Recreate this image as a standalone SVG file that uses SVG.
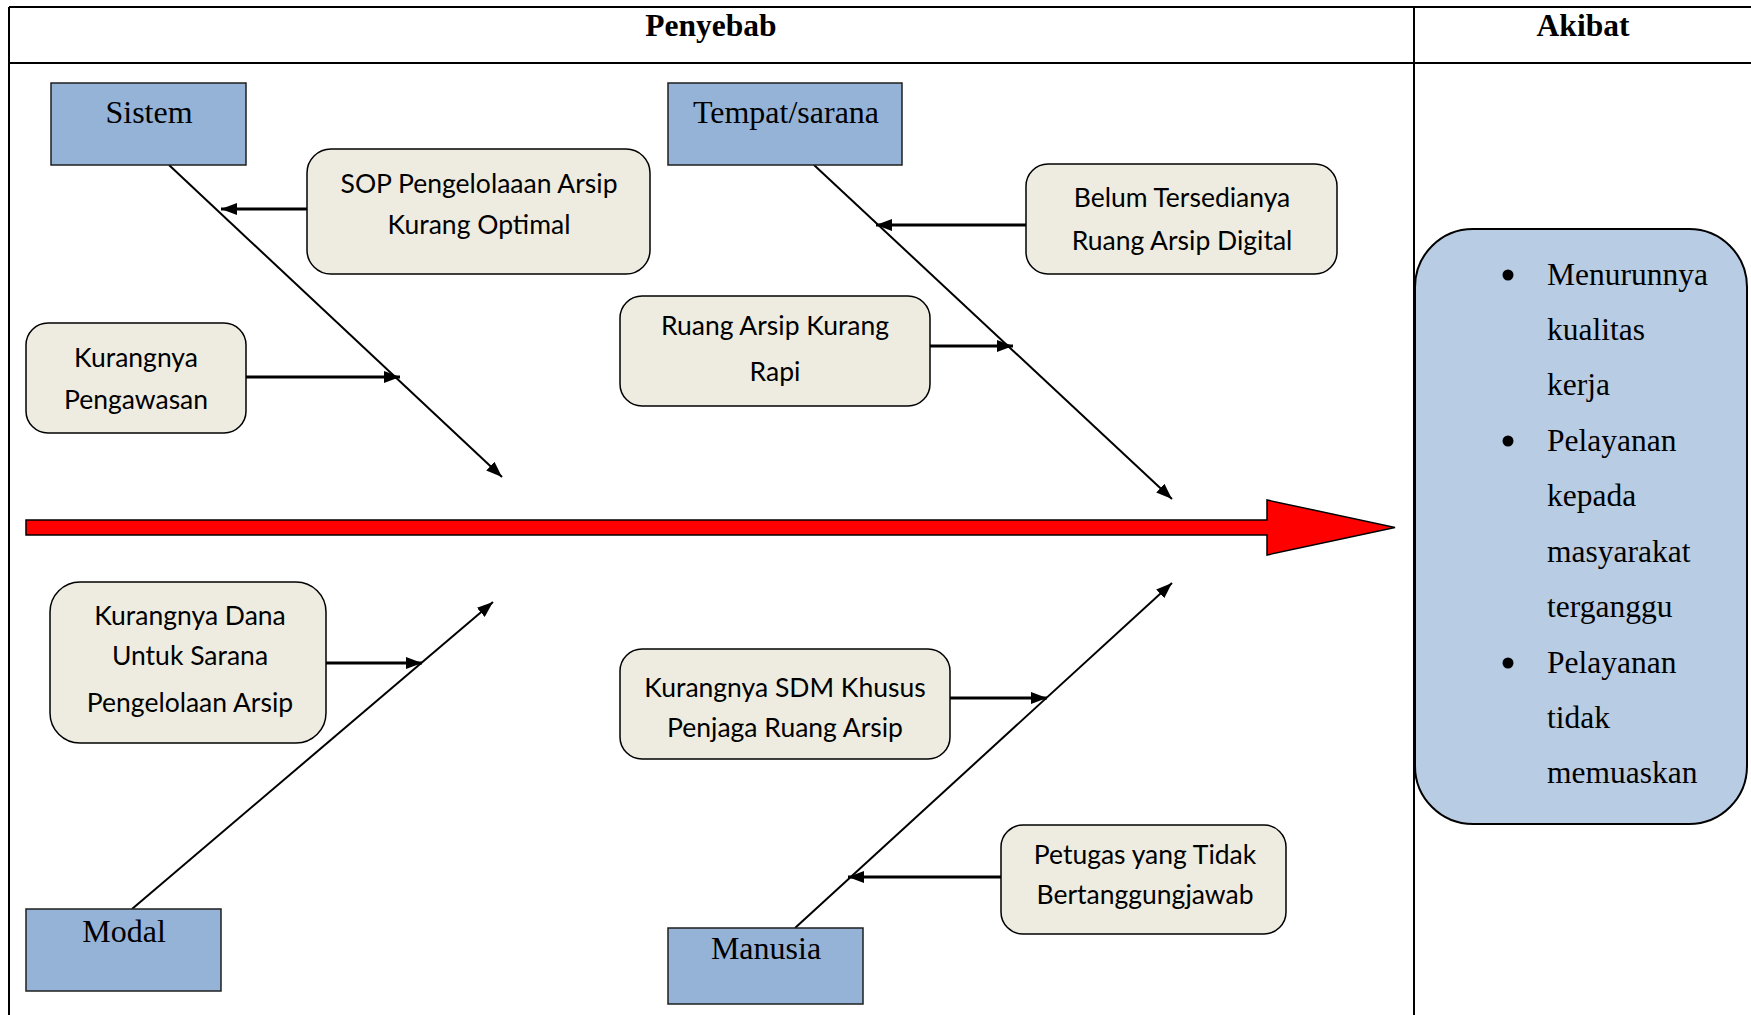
<svg xmlns="http://www.w3.org/2000/svg" width="1751" height="1015" viewBox="0 0 1751 1015">
<defs>
<style>
.tbl{stroke:#000;stroke-width:2;fill:none}
.hdr{font-family:"Liberation Serif",serif;font-weight:bold;font-size:31.5px;text-anchor:middle;fill:#000}
.cat rect{fill:#95B3D7;stroke:#1f1f1f;stroke-width:1.5}
.cat text{font-family:"Liberation Serif",serif;font-size:32px;text-anchor:middle;fill:#000}
.cause rect{fill:#EEECE1;stroke:#000;stroke-width:1.5}
.cause text{font-family:Lato,"Liberation Sans",sans-serif;font-size:26.5px;text-anchor:middle;fill:#000}
.spine{stroke:#000;stroke-width:2;fill:none;marker-end:url(#ah)}
.branch{stroke:#000;stroke-width:3;fill:none;marker-end:url(#ah)}
.eff text{font-family:"Liberation Serif",serif;font-size:31.5px;fill:#000}
</style>
<marker id="ah" viewBox="0 0 16 12" refX="16" refY="6" markerWidth="16" markerHeight="12" markerUnits="userSpaceOnUse" orient="auto">
<path d="M0,0 L16,6 L0,12 Z" fill="#000"/>
</marker>
</defs>

<g id="table">
<line class="tbl" x1="9" y1="7" x2="1751" y2="7"/>
<line class="tbl" x1="9" y1="63" x2="1751" y2="63"/>
<line class="tbl" x1="9" y1="7" x2="9" y2="1015"/>
<line class="tbl" x1="1414" y1="7" x2="1414" y2="1015"/>
<text class="hdr" x="711" y="36">Penyebab</text>
<text class="hdr" x="1583" y="36">Akibat</text>
</g>

<g id="connectors">
<polygon points="26,520 1267,520 1267,500 1395,527.5 1267,555 1267,535 26,535" fill="#FF0000" stroke="#000" stroke-width="1.5"/>
<line class="spine" x1="169" y1="165" x2="502" y2="477"/>
<line class="spine" x1="814" y1="165" x2="1172" y2="499"/>
<line class="spine" x1="132" y1="909" x2="493" y2="602"/>
<line class="spine" x1="795" y1="928" x2="1172" y2="583"/>
<line class="branch" x1="307" y1="209" x2="221" y2="209"/>
<line class="branch" x1="245" y1="377" x2="400" y2="377"/>
<line class="branch" x1="1026" y1="225" x2="876" y2="225"/>
<line class="branch" x1="930" y1="346" x2="1013" y2="346"/>
<line class="branch" x1="326" y1="663" x2="422" y2="663"/>
<line class="branch" x1="950" y1="698" x2="1047" y2="698"/>
<line class="branch" x1="1001" y1="877" x2="848" y2="877"/>
</g>

<g id="sistem" class="cat">
<rect x="51" y="83" width="195" height="82"/>
<text x="149" y="123">Sistem</text>
</g>
<g id="tempat" class="cat">
<rect x="668" y="83" width="234" height="82"/>
<text x="786" y="123">Tempat/sarana</text>
</g>
<g id="modal" class="cat">
<rect x="26" y="909" width="195" height="82"/>
<text x="124" y="942">Modal</text>
</g>
<g id="manusia" class="cat">
<rect x="668" y="928" width="195" height="76"/>
<text x="766" y="959">Manusia</text>
</g>

<g id="sop" class="cause">
<rect x="307" y="149" width="343" height="125" rx="24"/>
<text x="479" y="193">SOP Pengelolaaan Arsip</text>
<text x="479" y="234">Kurang Optimal</text>
</g>
<g id="pengawasan" class="cause">
<rect x="26" y="323" width="220" height="110" rx="22"/>
<text x="136" y="367">Kurangnya</text>
<text x="136" y="409">Pengawasan</text>
</g>
<g id="belum" class="cause">
<rect x="1026" y="164" width="311" height="110" rx="22"/>
<text x="1182" y="207">Belum Tersedianya</text>
<text x="1182" y="250">Ruang Arsip Digital</text>
</g>
<g id="rapi" class="cause">
<rect x="620" y="296" width="310" height="110" rx="22"/>
<text x="775" y="335">Ruang Arsip Kurang</text>
<text x="775" y="381">Rapi</text>
</g>
<g id="dana" class="cause">
<rect x="50" y="582" width="276" height="161" rx="30"/>
<text x="190" y="625">Kurangnya Dana</text>
<text x="190" y="665">Untuk Sarana</text>
<text x="190" y="712">Pengelolaan Arsip</text>
</g>
<g id="sdm" class="cause">
<rect x="620" y="649" width="330" height="110" rx="22"/>
<text x="785" y="697">Kurangnya SDM Khusus</text>
<text x="785" y="737">Penjaga Ruang Arsip</text>
</g>
<g id="petugas" class="cause">
<rect x="1001" y="825" width="285" height="109" rx="22"/>
<text x="1145" y="864">Petugas yang Tidak</text>
<text x="1145" y="904">Bertanggungjawab</text>
</g>

<g id="akibat" class="eff">
<rect x="1415" y="229" width="332" height="595" rx="58" fill="#B8CCE4" stroke="#000" stroke-width="2"/>
<circle cx="1508" cy="275" r="5.5" fill="#000"/>
<circle cx="1508" cy="441" r="5.5" fill="#000"/>
<circle cx="1508" cy="663" r="5.5" fill="#000"/>
<text x="1547" y="285">Menurunnya</text>
<text x="1547" y="340">kualitas</text>
<text x="1547" y="395">kerja</text>
<text x="1547" y="451">Pelayanan</text>
<text x="1547" y="506">kepada</text>
<text x="1547" y="562">masyarakat</text>
<text x="1547" y="617">terganggu</text>
<text x="1547" y="673">Pelayanan</text>
<text x="1547" y="728">tidak</text>
<text x="1547" y="783">memuaskan</text>
</g>
</svg>
